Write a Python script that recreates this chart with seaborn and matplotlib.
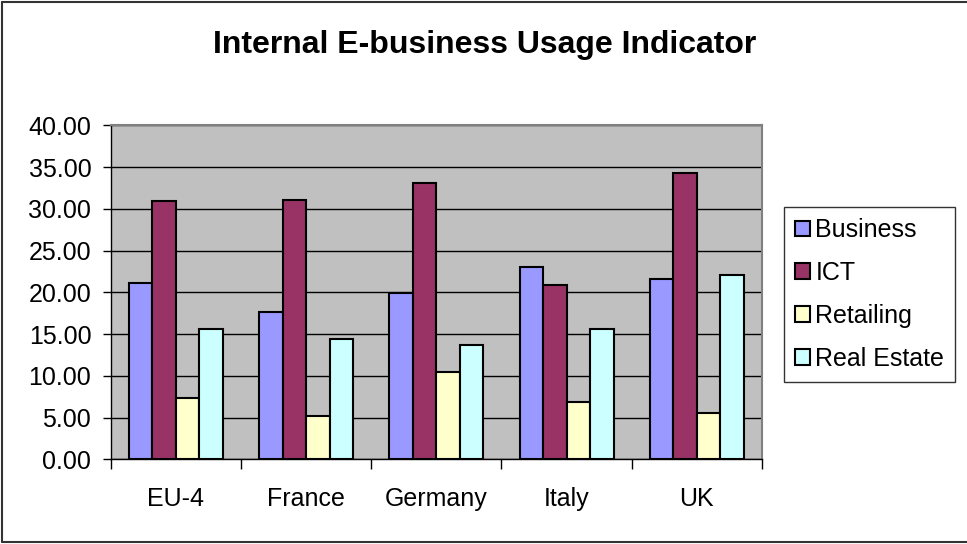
import matplotlib
matplotlib.use("Agg")
import matplotlib.pyplot as plt
import seaborn as sns
import pandas as pd
from matplotlib.lines import Line2D
from matplotlib.ticker import FixedLocator, FormatStrFormatter

countries = ["EU-4", "France", "Germany", "Italy", "UK"]
sectors = ["Business", "ICT", "Retailing", "Real Estate"]
business = [21.1, 17.7, 19.9, 23.0, 21.6]
ict = [30.9, 31.1, 33.1, 20.9, 34.3]
retailing = [7.4, 5.2, 10.5, 6.9, 5.5]
real_estate = [15.6, 14.4, 13.7, 15.6, 22.1]
y_ticks = [0, 5, 10, 15, 20, 25, 30, 35, 40]
title = "Internal E-business Usage Indicator"
colors = ["#9999FF", "#993366", "#FFFFCC", "#CCFFFF"]

rows = []
for s, vals in zip(sectors, [business, ict, retailing, real_estate]):
    for c, v in zip(countries, vals):
        rows.append({"Country": c, "Sector": s, "Value": v})
df = pd.DataFrame(rows)

sns.set_theme(style="white")
plt.rcParams["font.family"] = ["Liberation Sans", "DejaVu Sans"]
plt.rcParams["text.color"] = "black"
plt.rcParams["xtick.color"] = "black"
plt.rcParams["ytick.color"] = "black"
plt.rcParams["xtick.labelcolor"] = "black"
plt.rcParams["ytick.labelcolor"] = "black"

fig = plt.figure(figsize=(9.67, 5.44), dpi=100)
ax = fig.add_axes([110.7 / 967, 1 - 459.3 / 544, (762 - 110.7) / 967, (459.3 - 125.3) / 544])
ax.set_facecolor("#C0C0C0")

sns.barplot(data=df, x="Country", y="Value", hue="Sector", order=countries,
            hue_order=sectors, palette=colors, saturation=1, width=0.72,
            edgecolor="black", linewidth=1.5, ax=ax, errorbar=None)

ax.set_ylim(0, 40)
ax.set_xlim(-0.5, len(countries) - 0.5)
ax.yaxis.set_major_locator(FixedLocator(y_ticks))
ax.yaxis.set_major_formatter(FormatStrFormatter("%.2f"))
ax.grid(axis="y", color="black", linewidth=1.0)
ax.set_axisbelow(True)
ax.set_xlabel("")
ax.set_ylabel("")

ax.tick_params(axis="y", which="major", direction="out", length=6, width=1,
               color="black", labelsize=18, pad=8, left=True, labelcolor="black")
ax.set_xticks(range(len(countries)))
ax.set_xticklabels(countries)
ax.set_xticks([i - 0.5 for i in range(len(countries) + 1)], minor=True)
ax.tick_params(axis="x", which="major", length=0, labelsize=18, pad=20, labelcolor="black")
ax.tick_params(axis="x", which="minor", direction="out", length=7, width=1,
               color="black", bottom=True)

for side in ["left", "bottom"]:
    ax.spines[side].set_color("black")
    ax.spines[side].set_linewidth(1.0)
for side in ["top", "right"]:
    ax.spines[side].set_color("#808080")
    ax.spines[side].set_linewidth(1.5)

fig.text(485 / 967, 1 - 45 / 544, title, ha="center", va="center",
         fontsize=23, fontweight="bold", color="black")

handles, labels = ax.get_legend_handles_labels()
if ax.get_legend() is not None:
    ax.get_legend().remove()
leg = fig.legend(handles, labels, loc="upper left",
                 bbox_to_anchor=(784 / 967, 1 - 207 / 544), bbox_transform=fig.transFigure,
                 borderaxespad=0, fontsize=18, frameon=True, fancybox=False,
                 edgecolor="black", handlelength=0.6, handleheight=0.6,
                 handletextpad=0.2, labelspacing=0.75, borderpad=0.45)
leg.get_frame().set_linewidth(1.0)
for t in leg.get_texts():
    t.set_color("black")

lw = 1.5
fig.add_artist(Line2D([2 / 967, 2 / 967], [2 / 544, 1 - 2 / 544], color="#333333", lw=lw, transform=fig.transFigure))
fig.add_artist(Line2D([2 / 967, 1], [1 - 2 / 544, 1 - 2 / 544], color="#333333", lw=lw, transform=fig.transFigure))
fig.add_artist(Line2D([2 / 967, 1], [2 / 544, 2 / 544], color="#333333", lw=lw, transform=fig.transFigure))

fig.savefig("out.png", dpi=100)
